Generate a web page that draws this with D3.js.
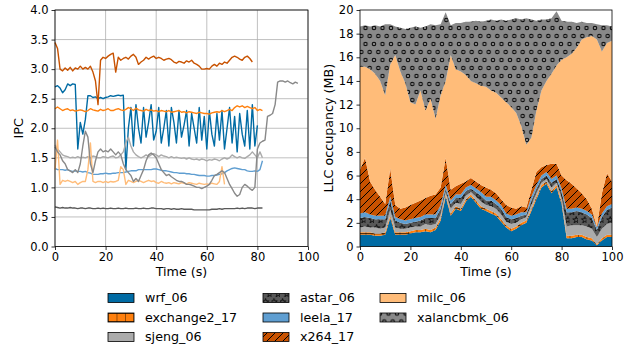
<!DOCTYPE html>
<html>
<head>
<meta charset="utf-8">
<script src="https://cdn.jsdelivr.net/npm/d3@7/dist/d3.min.js"></script>
<style>
  body { margin: 0; background: #fff; }
  svg { display: block; }
  text { font-family: "DejaVu Sans", sans-serif; fill: #000; }
</style>
</head>
<body>
<svg id="chart" width="641" height="352"></svg>
<script>
// ---- data ----------------------------------------------------------------
const benchmarks = ['wrf_06', 'exchange2_17', 'sjeng_06', 'astar_06', 'leela_17', 'x264_17', 'milc_06', 'xalancbmk_06'];
const colors = ['#006BA4', '#FF800E', '#ABABAB', '#595959', '#5F9ED1', '#C85200', '#FFBC79', '#898989'];

// IPC, one sample per second starting at t = 0
const ipcWrf = [2.7, 2.72, 2.68, 2.6, 2.65, 2.75, 2.72, 2.75, 2.74, 1.65, 2.1, 1.9, 2.15, 2.55, 2.55, 2.52, 2.53, 2.5, 2.52, 2.5,
  2.52, 2.53, 2.55, 2.54, 2.55, 2.56, 2.55, 2.56, 1.3, 2.0, 2.35, 1.7, 2.4, 2.0, 1.75, 2.35, 1.85, 2.1, 2.4, 1.8,
  1.95, 2.35, 1.75, 2.0, 2.3, 1.7, 2.35, 2.1, 1.75, 2.3, 1.85, 2.05, 2.3, 1.7, 2.25, 2.0, 1.75, 2.35, 1.8, 2.2,
  1.65, 2.3, 1.9, 1.7, 2.25, 1.8, 2.3, 1.65, 2.0, 2.35, 1.75, 2.2, 1.6, 2.25, 1.9, 1.7, 2.3, 1.65, 2.4, 1.7, 2.05];
const ipcExchange2 = [2.33, 2.36, 2.33, 2.3, 2.32, 2.33, 2.3, 2.31, 2.29, 2.3, 2.31, 2.3, 2.28, 2.3, 2.33, 2.31, 2.3, 2.29, 2.32, 2.3,
  2.31, 2.33, 2.3, 2.3, 2.32, 2.33, 2.31, 2.3, 2.32, 2.35, 2.33, 2.3, 2.34, 2.31, 2.3, 2.29, 2.32, 2.3, 2.31, 2.29,
  2.3, 2.28, 2.3, 2.29, 2.28, 2.3, 2.27, 2.28, 2.29, 2.3, 2.27, 2.28, 2.26, 2.28, 2.27, 2.26, 2.25, 2.27, 2.26, 2.25,
  2.25, 2.24, 2.26, 2.27, 2.28, 2.27, 2.3, 2.28, 2.3, 2.32, 2.3, 2.35, 2.38, 2.36, 2.38, 2.35, 2.37, 2.35, 2.33, 2.35,
  2.3, 2.32, 2.3];
const ipcSjeng = [1.72, 1.65, 1.6, 1.55, 1.53, 1.52, 1.5, 1.51, 1.5, 1.52, 1.5, 1.51, 1.5, 1.52, 1.5, 1.53, 1.52, 1.5, 1.5, 1.52,
  1.51, 1.5, 1.52, 1.53, 1.5, 1.51, 1.55, 1.6, 1.75, 1.85, 1.7, 1.6, 1.55, 1.52, 1.5, 1.52, 1.55, 1.52, 1.55, 1.57,
  1.55, 1.52, 1.55, 1.53, 1.52, 1.5, 1.52, 1.5, 1.51, 1.5, 1.49, 1.5, 1.48, 1.5, 1.48, 1.47, 1.48, 1.46, 1.48, 1.47,
  1.45, 1.47, 1.46, 1.48, 1.47, 1.45, 1.48, 1.5, 1.48, 1.5, 1.55, 1.52, 1.5, 1.52, 1.5, 1.49, 1.52, 1.55, 1.6, 1.55,
  1.5, 1.6, 1.5];
const ipcAstar = [0.67, 0.66, 0.65, 0.66, 0.65, 0.65, 0.66, 0.65, 0.65, 0.64, 0.65, 0.65, 0.64, 0.65, 0.65, 0.64, 0.64, 0.65, 0.64, 0.65,
  0.64, 0.64, 0.65, 0.64, 0.64, 0.65, 0.64, 0.64, 0.65, 0.64, 0.64, 0.64, 0.65, 0.64, 0.64, 0.65, 0.64, 0.64, 0.65, 0.65,
  0.64, 0.64, 0.64, 0.63, 0.64, 0.64, 0.63, 0.64, 0.63, 0.63, 0.64, 0.63, 0.63, 0.63, 0.63, 0.62, 0.62, 0.62, 0.62, 0.62,
  0.62, 0.62, 0.63, 0.63, 0.63, 0.64, 0.63, 0.64, 0.64, 0.64, 0.64, 0.64, 0.65, 0.64, 0.65, 0.64, 0.65, 0.65, 0.65, 0.64,
  0.65, 0.65, 0.65];
const ipcLeela = [1.32, 1.3, 1.3, 1.3, 1.29, 1.3, 1.28, 1.27, 1.28, 1.27, 1.27, 1.26, 1.27, 1.25, 1.24, 1.22, 1.22, 1.22, 1.23, 1.23,
  1.24, 1.23, 1.23, 1.24, 1.24, 1.25, 1.25, 1.25, 1.26, 1.27, 1.28, 1.28, 1.28, 1.3, 1.3, 1.3, 1.3, 1.3, 1.3, 1.31,
  1.31, 1.3, 1.29, 1.28, 1.28, 1.27, 1.26, 1.25, 1.25, 1.24, 1.24, 1.24, 1.23, 1.23, 1.22, 1.22, 1.21, 1.2, 1.2, 1.2,
  1.19, 1.19, 1.2, 1.2, 1.21, 1.22, 1.23, 1.25, 1.28, 1.3, 1.32, 1.33, 1.32, 1.31, 1.3, 1.3, 1.28, 1.27, 1.27, 1.28,
  1.27, 1.3, 1.45];
const ipcX264 = [3.45, 3.35, 3.0, 2.97, 3.02, 2.98, 3.03, 2.97, 3.02, 3.0, 3.05, 3.0, 3.03, 3.0, 3.05, 2.95, 2.8, 2.4, 3.15, 3.2,
  3.18, 3.22, 3.25, 3.27, 2.95, 3.2, 3.15, 3.18, 3.2, 3.17, 3.22, 3.25, 3.2, 3.08, 3.12, 3.15, 3.2, 3.17, 3.2, 3.22,
  3.18, 3.2, 3.18, 3.15, 3.17, 3.18, 3.16, 3.12, 3.1, 3.13, 3.12, 3.1, 3.14, 3.12, 3.15, 3.1, 3.08, 3.05, 3.0, 3.0,
  3.01, 3.0, 3.05, 3.08, 3.05, 3.1, 3.08, 3.12, 3.1, 3.15, 3.2, 3.22, 3.2, 3.17, 3.15, 3.2, 3.22, 3.18, 3.12];
const ipcMilc = [1.3, 1.8, 1.05, 1.12, 1.1, 1.12, 1.1, 1.08, 1.1, 1.05, 1.08, 1.1, 1.1, 1.3, 1.75, 1.1, 1.08, 1.1, 1.1, 1.08,
  1.1, 1.08, 1.1, 1.09, 1.1, 1.12, 1.35, 1.3, 1.05, 1.12, 1.1, 1.08, 1.1, 1.12, 1.1, 1.08, 1.1, 1.12, 1.1, 1.11,
  1.08, 1.07, 1.1, 1.08, 1.07, 1.08, 1.06, 1.08, 1.07, 1.06, 1.08, 1.07, 1.06, 1.08, 1.07, 1.06, 1.05, 1.07, 1.06, 1.05,
  1.06, 1.05, 1.07, 1.06, 1.05, 1.1, 1.35, 1.05];
const ipcXalanc = [1.69, 1.6, 1.55, 1.45, 1.4, 1.3, 1.28, 1.25, 1.3, 1.25, 1.4, 1.7, 1.95, 1.85, 1.4, 1.25, 1.45, 1.6, 1.65, 1.6,
  1.62, 1.6, 1.65, 1.6, 1.55, 1.6, 1.55, 1.4, 1.3, 1.25, 1.2, 1.1, 1.15, 1.1, 1.2, 1.3, 1.45, 1.55, 1.58, 1.55,
  1.5, 1.4, 1.3, 1.25, 1.2, 1.22, 1.18, 1.15, 1.12, 1.1, 1.1, 1.08, 1.05, 1.05, 1.04, 1.02, 1.0, 1.0, 0.98, 1.0,
  1.02, 1.05, 1.12, 1.2, 1.22, 1.25, 1.28, 1.25, 1.15, 1.05, 0.98, 0.9, 0.85, 0.88, 1.0, 1.05, 1.02, 0.98, 0.95, 1.0,
  1.65, 1.75, 1.78, 1.8, 2.2, 2.22, 2.25, 2.4, 2.78, 2.8, 2.8, 2.78, 2.8, 2.77, 2.75, 2.78, 2.76];
const ipcSeries = [ipcWrf, ipcExchange2, ipcSjeng, ipcAstar, ipcLeela, ipcX264, ipcMilc, ipcXalanc];
const ipcTicks = [0, 0.5, 1.0, 1.5, 2.0, 2.5, 3.0, 3.5, 4.0];

// LLC occupancy (MB), one sample every 2 s
const llcTime = [0, 2, 4, 6, 8, 10, 12, 14, 16, 18, 20, 22, 24, 26, 28, 30, 32, 34, 36, 38, 40, 42, 44, 46, 48, 50,
  52, 54, 56, 58, 60, 62, 64, 66, 68, 70, 72, 74, 76, 78, 80, 82, 84, 86, 88, 90, 92, 94, 96, 98, 100];
const llcWrf = [1.0, 1.0, 1.0, 0.9, 0.9, 1.0, 2.4, 1.0, 1.0, 1.0, 1.1, 1.2, 1.2, 1.3, 1.2, 1.4, 2.2, 4.2, 2.6, 3.2, 3.0, 3.8, 4.2, 3.7, 3.2, 3.0,
  2.8, 2.6, 2.1, 1.6, 1.3, 1.5, 1.8, 2.0, 3.0, 4.0, 5.0, 5.3, 4.5, 5.0, 3.6, 0.7, 0.7, 0.8, 0.8, 0.6, 0.5, 0.1, 0.5, 0.8, 0.8];
const llcExchange2 = [0.2, 0.2, 0.2, 0.2, 0.2, 0.2, 0.2, 0.2, 0.2, 0.2, 0.2, 0.2, 0.2, 0.2, 0.2, 0.2, 0.2, 0.2, 0.2, 0.2, 0.2, 0.2, 0.2, 0.2, 0.2, 0.2,
  0.2, 0.2, 0.2, 0.2, 0.2, 0.2, 0.2, 0.2, 0.2, 0.2, 0.2, 0.2, 0.2, 0.2, 0.2, 0.2, 0.2, 0.2, 0.2, 0.2, 0.2, 0.1, 0.2, 0.2, 0.2];
const llcSjeng = [0.4, 0.5, 0.4, 0.5, 0.4, 0.4, 0.5, 0.4, 0.3, 0.3, 0.3, 0.3, 0.3, 0.4, 0.4, 0.3, 0.3, 0.2, 0.4, 0.3, 0.4, 0.3, 0.2, 0.3, 0.4, 0.3,
  0.4, 0.4, 0.4, 0.3, 0.4, 0.3, 0.3, 0.3, 0.3, 0.3, 0.2, 0.2, 0.3, 0.2, 0.3, 0.8, 0.9, 0.8, 0.8, 0.9, 0.8, 0.6, 0.8, 0.9, 1.0];
const llcAstar = [0.8, 0.8, 0.8, 0.7, 0.8, 0.7, 0.8, 0.6, 0.5, 0.4, 0.4, 0.4, 0.5, 0.5, 0.6, 0.5, 0.5, 0.3, 0.4, 0.4, 0.5, 0.4, 0.3, 0.4, 0.5, 0.4,
  0.5, 0.4, 0.5, 0.4, 0.4, 0.4, 0.3, 0.2, 0.4, 0.4, 0.3, 0.3, 0.4, 0.3, 0.5, 1.2, 1.1, 1.2, 1.1, 1.0, 0.9, 0.6, 1.0, 1.2, 1.3];
const llcLeela = [0.4, 0.4, 0.3, 0.3, 0.3, 0.3, 0.3, 0.3, 0.3, 0.3, 0.3, 0.3, 0.3, 0.3, 0.3, 0.3, 0.3, 0.3, 0.3, 0.3, 0.3, 0.3, 0.3, 0.3, 0.3, 0.3,
  0.3, 0.3, 0.3, 0.3, 0.3, 0.3, 0.3, 0.2, 0.3, 0.3, 0.3, 0.3, 0.3, 0.3, 0.3, 0.3, 0.3, 0.3, 0.3, 0.3, 0.3, 0.2, 0.3, 0.3, 0.3];
const llcX264 = [3.7, 4.6, 2.8, 2.2, 1.6, 1.0, 2.4, 1.0, 0.9, 1.1, 1.2, 1.3, 1.4, 1.4, 1.6, 1.7, 1.5, 2.3, 0.9, 0.7, 0.9, 0.5, 0.6, 0.6, 0.6, 0.8,
  0.6, 0.6, 0.5, 0.7, 0.7, 0.5, 0.5, 0.4, 0.6, 1.1, 0.7, 0.6, 1.3, 1.0, 1.1, 2.4, 2.1, 1.6, 1.3, 1.0, 0.5, 0.1, 1.7, 2.8, 1.9];
const llcMilc = [8.7, 7.7, 9.5, 9.8, 9.8, 9.2, 8.8, 12.7, 11.6, 10.5, 8.7, 8.3, 9.3, 7.4, 8.2, 6.4, 7.8, 6.5, 11.4, 9.9, 9.5, 9.0, 8.2, 8.3, 8.4, 8.5,
  8.4, 8.5, 8.6, 8.7, 8.5, 8.1, 6.8, 5.3, 4.4, 5.2, 6.5, 7.1, 7.6, 8.3, 9.8, 10.4, 11.0, 11.9, 13.0, 13.7, 14.6, 15.8, 12.0, 11.0, 11.9];
const llcXalanc = [3.4, 3.5, 3.6, 4.1, 4.6, 6.0, 3.4, 2.4, 3.7, 4.6, 6.3, 6.6, 5.3, 7.1, 6.3, 7.9, 6.0, 5.8, 2.5, 3.9, 4.1, 4.5, 5.0, 5.3, 5.4, 5.6,
  6.0, 6.1, 6.6, 6.9, 7.4, 8.0, 9.0, 10.7, 10.0, 7.6, 6.0, 5.2, 4.7, 4.6, 3.3, 3.0, 2.7, 2.1, 1.5, 1.2, 1.1, 1.3, 2.2, 1.5, 1.2];
const llcSeries = [llcWrf, llcExchange2, llcSjeng, llcAstar, llcLeela, llcX264, llcMilc, llcXalanc];
const llcTicks = [0, 2, 4, 6, 8, 10, 12, 14, 16, 18, 20];
const timeTicks = [0, 20, 40, 60, 80, 100];

// ---- layout --------------------------------------------------------------
const svg = d3.select('#chart');
const left = { x0: 55, x1: 308, y0: 10, y1: 246.5 };
const right = { x0: 360, x1: 612, y0: 10, y1: 246.5 };
const labelSize = 12.7;
const tickSize = 11.5;

// ---- hatch patterns ------------------------------------------------------
const defs = svg.append('defs');

const plus = defs.append('pattern').attr('id', 'hatch-plus')
  .attr('patternUnits', 'userSpaceOnUse').attr('width', 8.5).attr('height', 8.5);
plus.append('rect').attr('width', 8.5).attr('height', 8.5).attr('fill', colors[1]);
plus.append('path').attr('d', 'M0,0V8.5M0,4.25H8.5').attr('stroke', '#000').attr('stroke-width', 0.8);

const stars = defs.append('pattern').attr('id', 'hatch-star')
  .attr('patternUnits', 'userSpaceOnUse').attr('width', 8.5).attr('height', 16);
stars.append('rect').attr('width', 8.5).attr('height', 16).attr('fill', colors[3]);
const starPath = d3.symbol(d3.symbolStar).size(14)();
[[2.5, 4], [6.75, 12]].forEach(([sx, sy]) => {
  stars.append('path').attr('d', starPath).attr('transform', `translate(${sx},${sy})`)
    .attr('fill', 'none').attr('stroke', '#000').attr('stroke-width', 0.8);
});

const diag = defs.append('pattern').attr('id', 'hatch-diag')
  .attr('patternUnits', 'userSpaceOnUse').attr('width', 8).attr('height', 8);
diag.append('rect').attr('width', 8).attr('height', 8).attr('fill', colors[5]);
diag.append('path').attr('d', 'M-2,2L2,-2M0,8L8,0M6,10L10,6')
  .attr('stroke', '#000').attr('stroke-width', 1);

const circles = defs.append('pattern').attr('id', 'hatch-circle')
  .attr('patternUnits', 'userSpaceOnUse').attr('width', 8.5).attr('height', 16);
circles.append('rect').attr('width', 8.5).attr('height', 16).attr('fill', colors[7]);
[[4.25, 4], [0, 12], [8.5, 12]].forEach(([cx, cy]) => {
  circles.append('circle').attr('cx', cx).attr('cy', cy).attr('r', 1.7)
    .attr('fill', 'none').attr('stroke', '#000').attr('stroke-width', 1);
});

const fills = [colors[0], 'url(#hatch-plus)', colors[2], 'url(#hatch-star)', colors[4], 'url(#hatch-diag)', colors[6], 'url(#hatch-circle)'];

// ---- helpers -------------------------------------------------------------
function styleAxis(g) {
  g.select('.domain').remove();
  g.selectAll('.tick line').attr('stroke', '#000').attr('stroke-width', 0.8);
  g.selectAll('.tick text').attr('font-size', tickSize).attr('font-family', '"DejaVu Sans", sans-serif').attr('fill', '#000');
}

function drawAxes(box, x, y, yTicks, yFormat, yLabel, yLabelX) {
  svg.append('g')
    .attr('transform', `translate(0,${box.y1})`)
    .call(d3.axisBottom(x).tickValues(timeTicks).tickSize(3.5).tickPadding(3))
    .call(styleAxis);
  svg.append('g')
    .attr('transform', `translate(${box.x0},0)`)
    .call(d3.axisLeft(y).tickValues(yTicks).tickFormat(yFormat).tickSize(3.5).tickPadding(3))
    .call(styleAxis);
  svg.append('rect')
    .attr('x', box.x0).attr('y', box.y0)
    .attr('width', box.x1 - box.x0).attr('height', box.y1 - box.y0)
    .attr('fill', 'none').attr('stroke', '#000').attr('stroke-width', 0.8);
  svg.append('text')
    .attr('x', (box.x0 + box.x1) / 2).attr('y', 276)
    .attr('text-anchor', 'middle').attr('font-size', labelSize)
    .text('Time (s)');
  svg.append('text')
    .attr('transform', `translate(${yLabelX},${(box.y0 + box.y1) / 2}) rotate(-90)`)
    .attr('text-anchor', 'middle').attr('dy', '0.35em').attr('font-size', labelSize)
    .text(yLabel);
}

// ---- left: IPC lines -----------------------------------------------------
const xIpc = d3.scaleLinear().domain([0, 100]).range([left.x0, left.x1]);
const yIpc = d3.scaleLinear().domain([0, 4]).range([left.y1, left.y0]);

const grid = svg.append('g').attr('class', 'grid');
grid.selectAll('line.h').data(ipcTicks).join('line')
  .attr('class', 'h')
  .attr('x1', left.x0).attr('x2', left.x1)
  .attr('y1', d => yIpc(d)).attr('y2', d => yIpc(d))
  .attr('stroke', '#b0b0b0').attr('stroke-width', 0.8);
grid.selectAll('line.v').data(timeTicks).join('line')
  .attr('class', 'v')
  .attr('x1', d => xIpc(d)).attr('x2', d => xIpc(d))
  .attr('y1', left.y0).attr('y2', left.y1)
  .attr('stroke', '#b0b0b0').attr('stroke-width', 0.8);

const line = d3.line().x((d, i) => xIpc(i)).y(d => yIpc(d));
svg.append('g').attr('class', 'lines')
  .selectAll('path').data(ipcSeries).join('path')
  .attr('d', line)
  .attr('fill', 'none')
  .attr('stroke', (d, i) => colors[i])
  .attr('stroke-width', 1.4)
  .attr('stroke-linejoin', 'round');

drawAxes(left, xIpc, yIpc, ipcTicks, d3.format('.1f'), 'IPC', 19);

// ---- right: stacked LLC occupancy ---------------------------------------
const xLlc = d3.scaleLinear().domain([0, 100]).range([right.x0, right.x1]);
const yLlc = d3.scaleLinear().domain([0, 20]).range([right.y1, right.y0]);

const rows = llcTime.map((t, i) => {
  const row = { t };
  benchmarks.forEach((b, k) => { row[b] = llcSeries[k][i]; });
  return row;
});
const layers = d3.stack().keys(benchmarks)(rows);

const area = d3.area()
  .x(d => xLlc(d.data.t))
  .y0(d => yLlc(d[0]))
  .y1(d => yLlc(d[1]));

svg.append('g').attr('class', 'stack')
  .selectAll('path').data(layers).join('path')
  .attr('d', area)
  .attr('fill', (d, i) => fills[i])
  .attr('stroke', 'none');

drawAxes(right, xLlc, yLlc, llcTicks, d3.format('d'), 'LLC occupancy (MB)', 329);

// ---- legend --------------------------------------------------------------
const legendCols = [108, 263, 380];
const legendRows = [298, 317.5, 337];
const legend = svg.append('g').attr('class', 'legend')
  .selectAll('g').data(benchmarks).join('g')
  .attr('transform', (d, i) => `translate(${legendCols[Math.floor(i / 3)]},${legendRows[i % 3]})`);
legend.append('rect')
  .attr('x', 0).attr('y', -4.5).attr('width', 26).attr('height', 9)
  .attr('fill', (d, i) => fills[i])
  .attr('stroke', '#000').attr('stroke-width', 0.8);
legend.append('text')
  .attr('x', 37).attr('dy', '0.35em')
  .attr('font-size', labelSize)
  .text(d => d);
</script>
</body>
</html>
